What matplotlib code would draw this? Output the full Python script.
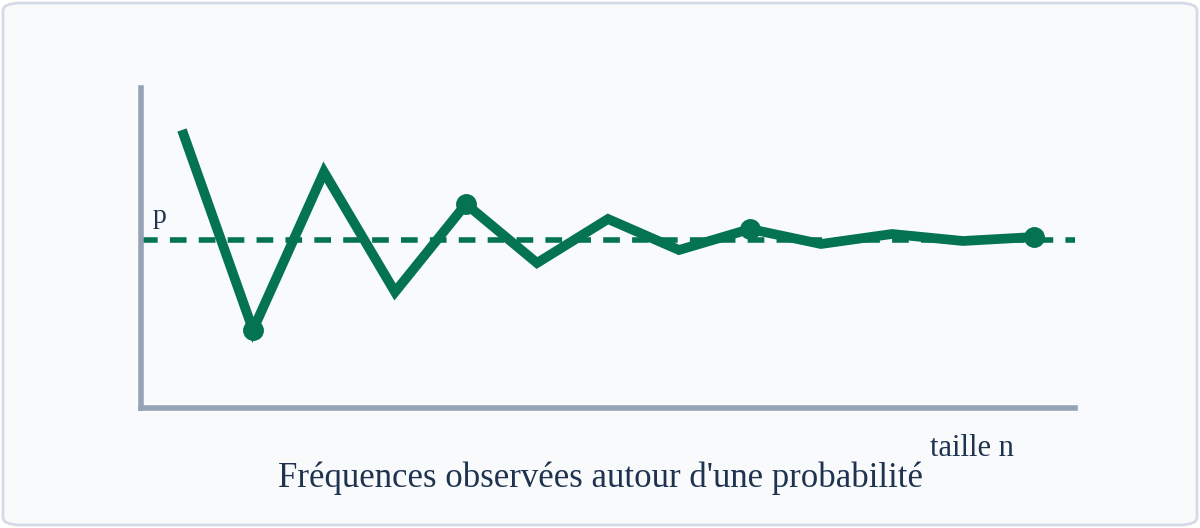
import matplotlib
matplotlib.use("Agg")
import matplotlib.pyplot as plt
from matplotlib.patches import FancyBboxPatch

n_index = list(range(13))
freq = [278, 78, 236, 116, 204, 145, 189, 158, 179, 164, 174, 167, 171]
p_value = 168
marked = [1, 4, 8, 12]

green = "#037350"
axis_col = "#98a2b6"
text_col = "#1f3350"

fig = plt.figure(figsize=(12, 5.28), dpi=100)
fig.patch.set_facecolor("white")
fig.patches.append(FancyBboxPatch((3/1200, 3/528), 1194/1200, 522/528,
    boxstyle="round,pad=0,rounding_size=0.015", transform=fig.transFigure,
    facecolor="#f8fafc", edgecolor="#d5dbe6", linewidth=2, zorder=-10))

ax = fig.add_axes([141/1200, 1 - 408/528, 934/1200, 320/528])
ax.set_zorder(5)
ax.set_facecolor("none")
ax.set_xlim(-41/71, 12 + 41/71)
ax.set_ylim(0, 320)
for s in ["top", "right"]:
    ax.spines[s].set_visible(False)
for s in ["left", "bottom"]:
    ax.spines[s].set_color(axis_col)
    ax.spines[s].set_linewidth(4)
ax.set_xticks([]); ax.set_yticks([])

ax.axhline(p_value, color=green, lw=4, ls=(0, (3, 2.2)))
ax.plot(n_index, freq, color=green, lw=7, solid_joinstyle="miter", solid_capstyle="butt")
ax.plot([n_index[i] for i in marked], [freq[i] for i in marked], "o", color=green, ms=14)

fig.text(160/1200, 1 - 216/528, "p", family="Liberation Serif", fontsize=20, color=text_col, ha="center", va="center")
fig.text(972/1200, 1 - 448/528, "taille n", family="Liberation Serif", fontsize=22, color=text_col, ha="center", va="center")
fig.text(600/1200, 1 - 478/528, "Fréquences observées autour d'une probabilité", family="Liberation Serif",
         fontsize=25, color=text_col, ha="center", va="center")

fig.savefig("out.png", dpi=100)
